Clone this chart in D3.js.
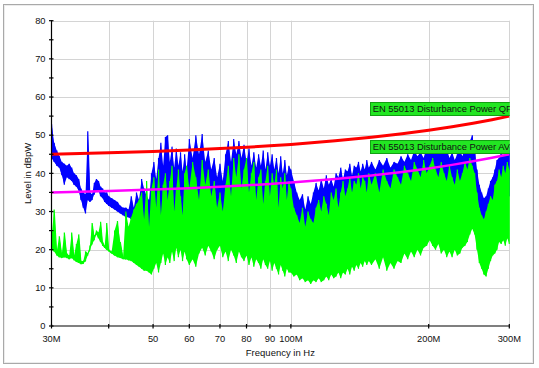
<!DOCTYPE html>
<html>
<head>
<meta charset="utf-8">
<script src="https://cdn.jsdelivr.net/npm/d3@7/dist/d3.min.js"></script>
<style>
  html, body { margin: 0; padding: 0; background: #fff; }
  svg { display: block; }
  text { font-family: "Liberation Sans", Arial, sans-serif; fill: #111; }
</style>
</head>
<body>
<svg id="chart" width="539" height="368"></svg>
<script>
// ---------------- data ----------------
const freqMHz = [
  30.0,30.4,30.8,31.2,31.6,32.0,32.4,32.8,33.2,33.6,34.0,34.4,34.8,35.2,35.6,36.0,36.4,36.8,37.2,37.6,38.0,38.4,38.8,39.2,39.6,
  40.0,40.6,41.2,41.8,42.4,43.0,43.6,44.2,44.8,45.4,46.0,46.6,47.2,47.8,48.4,49.0,49.6,50.2,50.8,51.4,52.0,52.6,53.2,53.8,54.4,55.0,55.6,56.2,56.8,57.4,58.0,58.6,59.2,
  60,61,62,63,64,65,66,67,68,69,70,71,72,73,74,75,76,77,78,79,80,81,82,83,84,85,86,87,88,89,90,91,92,93,94,95,96,97,98,99,
  100,101.5,103,104.5,106,107.5,109,110.5,112,113.5,115,116.5,118,119.5,121,122.5,124,125.5,127,128.5,130,131.5,133,134.5,136,137.5,139,140.5,142,143.5,145,146.5,148,
  150,153,156,159,162,165,168,171,174,177,180,183,186,189,192,195,198,201,204,207,210,213,216,219,222,225,228,231,234,237,240,243,246,249,252,255,258,261,264,267,270,273,276,279,282,285,288,291,294,297,300
];
// blue trace (peak) upper / lower values per sample, dBpW
const peakHi = [
  53,48,46,44.5,43,42.5,42,42.5,41.5,40,39.5,38.5,36,35,34.5,51,35,34.5,37.5,38.5,38,36.5,36,35,35,
  34,33.5,33,32.5,31.5,31,31,30.5,34,31,35,33,38.5,36,34,33,40,43,38.5,44,48,42,49.5,50,43,47,41.5,46.5,42,45.5,40.5,45,41,
  49,44,50,45,50.3,43,46,41,44,39,42.5,38,45,48.5,43,49,45,48.5,44,47.5,43,46.5,42,45.5,41.5,45,42,46,41,45.5,42,45,41,44,40,44.5,40,43.5,39.5,42,
  41,38,35,33,34.5,30.5,34,32,35,37.5,35.5,38.5,36,39.5,37,38.5,36.5,40,39,41.5,38.5,41,40.5,42.5,39.5,42,41.5,43,40.5,42.5,41,43.5,41.5,
  43,41,43.5,42,44,41.5,43,42.5,44.5,43,45,43.5,46,44.5,45.5,44,47,46.5,48,45.5,47,46,45,46.5,44,45.5,43.5,45,46,44.5,47,47.5,48.5,50,46.5,41,37,35,33.5,34,36,38,39,41,43.5,44,45.5,44.5,46,45.5,47
];
const peakLo = [
  44,43,42,41.5,39.5,37,39,38.5,38,37,36.5,35.5,33,31,29.5,33,32.5,33,34.5,35.5,35.5,34,33.5,32.5,32,
  31.5,31,30.5,30,29.5,29,28.5,28.5,28,27.5,27,26.5,26,26.5,25,24.5,25,26,26,26.5,27,27,27.5,27,28,28.5,28,29,28.5,28,29,28.5,29,
  28,29,28.5,30,29.5,30,29.5,30,29,30,29.5,29,30.5,31,31.5,31,32,31.5,31,32,31.5,30,31,30.5,31,30,31.5,30.5,31,28,30.5,31,30,31,30,29.5,30,29,30,29,
  28,27,25,23.5,24,23,25,24.5,26,27,26.5,27,27.5,28,27,28.5,28,29,28,30,29,30,30.5,31,30,31,31.5,31,32,31,32,31.5,32,
  32,33,32.5,33,32,33.5,32.5,34,33,34,33.5,34.5,34,35,35,35.5,35,35.5,35,35.5,33,35,34,33,34.5,34,33,35,33,35,36,36,37,36,34,31,28,26,25,25.5,27,28,29,30,31,32,33,32,33.5,33,34
];
// green trace (average) upper / lower values per sample, dBpW
const avgHi = [
  23,30.5,19.5,23.5,19,24.5,19,18.5,24.5,18.5,21.5,24,17,17,19.5,19,21,27,23.5,25,24.5,27.3,22,21,27,
  20,19.5,25,27.5,22,18,30,26,28.5,30.5,32,33,35,28,38,26,36,39,31,41,29,37,40,33,38,42,30,36,41,34,29,40,42,
  36,43,39,33,43.5,37,41,34,38,31,35,30,37,42,34,44,39,45,36,41,44,35,40,43,33,39,41,32,38,42,34,40,37,41,31,39,36,40,33,38,
  36,31,29,27,31,26,30,28,27,31,33,30,34,32,29,35,33,36,31,35,38,34,36,39,35,38,37,40,36,39,38,35,40,
  37,40,35,41,38,36,41,39,37,42,40,38,43,41,39,43.5,40,42,44,41,39,43,40,38,42,39,37,41,38,40,43,41,44,42,40,35,31,29,28,30,32,34,33,37,38,41,39,42,40,43,41
];
const avgLo = [
  20,19.5,18.5,18,17.8,18,17.8,17.5,17.8,17.2,16.8,16.5,16.2,16.3,17,18.5,20,21.5,22.5,24,23,22,21,20.5,20,
  19.5,19,18.5,18,17.8,17.5,17.5,17.2,17,16.5,16,15.5,15,14.5,14.5,14,13.5,15,16.5,14,16.5,19,16,18,16.5,19.5,17,20.5,18,20,17,19.5,17.5,
  16,17.5,15.5,19,20.5,18.5,21,19.5,17.5,20,21,18,19.5,17,20,18.5,16.5,19.5,18,17,18.5,16,18,15.5,17.5,16.5,15,17.5,16,15,17,14.5,16.5,15,13.5,16,14.5,13,15,14,
  14,13,13.5,12,12.5,11.5,12,11,12,11.5,12.5,11.5,12,13,12,13.5,12.5,13,14,12.5,14,13.5,15,13.5,15.5,14.5,16,15,16.5,15.5,17,16,17,
  16,17.5,15,18,14.5,16.5,15,17,16.5,19,17.5,19.5,18,20,18.5,20.5,21,22.5,21,20,21.5,19,20,18,19.5,18,20,18.5,19,20.5,21,22,24,25.5,24,20,16.5,15,13.5,13,15,17,18.5,19,20,22,21.5,22.5,21,23,21.5
];
// limit lines (EN 55013 disturbance power)
const limitFreqMHz = [30,40,50,60,70,80,90,100,125,150,175,200,225,250,275,300];
const limitQP = [45.00,45.37,45.74,46.11,46.48,46.85,47.22,47.59,48.52,49.44,50.37,51.30,52.22,53.15,54.07,55.00];
const limitAV = [35.00,35.37,35.74,36.11,36.48,36.85,37.22,37.59,38.52,39.44,40.37,41.30,42.22,43.15,44.07,45.00];
const limitNames = ["EN 55013 Disturbance Power QP", "EN 55013 Disturbance Power AV"];
const labelAnchorMHz = 149;

const xTickValues = [30,40,50,60,70,80,90,100,200,300];
const xTickLabels = ["30M","","50","60","70","80","90","100M","200M","300M"];
const yMajorTicks = [0,10,20,30,40,50,60,70,80];
const yMinorTicks = [5,15,25,35,45,55,65,75];
const xTitle = "Frequency in Hz";
const yTitle = "Level in dBpW";

// ---------------- chart ----------------
const svg = d3.select("#chart");
const x = d3.scaleLog().domain([30,300]).range([51.5,509.3]);
const y = d3.scaleLinear().domain([0,80]).range([326,20.7]);

// outer frame
svg.append("rect").attr("x",3.5).attr("y",4.5).attr("width",530).attr("height",359)
  .attr("fill","#fff").attr("stroke","#a9a9a9").attr("stroke-width",1);
svg.append("rect").attr("x",4.5).attr("y",5.5).attr("width",528).attr("height",357)
  .attr("fill","none").attr("stroke","#ececec").attr("stroke-width",1);

svg.append("defs").append("clipPath").attr("id","plotclip").append("rect")
  .attr("x",x(30)).attr("y",y(80)-1).attr("width",x(300)-x(30)+0.5).attr("height",y(0)-y(80)+1);

// grid
const grid = svg.append("g").attr("stroke","#d4d4d4").attr("stroke-width",1);
grid.selectAll(".hg").data(yMajorTicks.slice(1)).join("line")
  .attr("x1",x(30)).attr("x2",x(300)).attr("y1",d=>Math.round(y(d))+0.5).attr("y2",d=>Math.round(y(d))+0.5);
grid.selectAll(".vg").data(xTickValues.slice(1)).join("line")
  .attr("y1",y(0)).attr("y2",y(80)).attr("x1",d=>Math.round(x(d))+0.5).attr("x2",d=>Math.round(x(d))+0.5);

const plot = svg.append("g").attr("clip-path","url(#plotclip)");
const idx = d3.range(freqMHz.length);

// measurement trace: band fill + sample-by-sample stroke (low -> high -> next low)
function band(hi, lo) {
  return d3.area().x(i => x(freqMHz[i])).y0(i => y(lo[i])).y1(i => y(hi[i]))(idx);
}
function trace(hi, lo) {
  const pts = [];
  freqMHz.forEach((f,i) => { pts.push([x(f), y(lo[i])]); pts.push([x(f), y(hi[i])]); });
  return d3.line()(pts);
}
function drawSeries(hi, lo, color) {
  plot.append("path").attr("d", band(hi, lo)).attr("fill", color);
  plot.append("path").attr("d", trace(hi, lo)).attr("fill","none")
    .attr("stroke", color).attr("stroke-width",1.2).attr("stroke-linejoin","bevel");
}
drawSeries(peakHi, peakLo, "#0000ff");
drawSeries(avgHi, avgLo, "#00ff00");

const lim = d3.line().x((d,i)=>x(limitFreqMHz[i])).y(d=>y(d));
plot.append("path").attr("d", lim(limitAV)).attr("fill","none").attr("stroke","#ff00ff").attr("stroke-width",2.5);
plot.append("path").attr("d", lim(limitQP)).attr("fill","none").attr("stroke","#ff0000").attr("stroke-width",3);

// limit labels
[limitQP, limitAV].forEach((vals,k) => {
  const yb = y(vals[vals.length-1]) - 1;
  const g = plot.append("g");
  g.append("rect").attr("x",Math.round(x(labelAnchorMHz))+0.5).attr("y",Math.round(yb-13.5)+0.5)
    .attr("width",160).attr("height",13).attr("fill","#22e622").attr("stroke","#13a013");
  g.append("text").attr("x",x(labelAnchorMHz)+2.5).attr("y",yb-3.2)
    .style("font-size","9.4px").text(limitNames[k]);
});

// axes
const ax = svg.append("g").attr("stroke","#000").attr("stroke-width",1.2);
ax.append("line").attr("x1",x(30)).attr("x2",x(30)).attr("y1",y(0)).attr("y2",y(80)-0.5);
ax.append("line").attr("x1",x(30)).attr("x2",x(300)).attr("y1",y(0)).attr("y2",y(0));
ax.selectAll(".yt").data(yMajorTicks.concat(yMinorTicks)).join("line")
  .attr("x1",x(30)-2.5).attr("x2",x(30)+2).attr("y1",d=>y(d)).attr("y2",d=>y(d));
ax.selectAll(".xt").data(xTickValues).join("line")
  .attr("y1",y(0)-2).attr("y2",y(0)+2.5).attr("x1",d=>x(d)).attr("x2",d=>x(d));

svg.append("g").selectAll("text").data(yMajorTicks).join("text")
  .attr("x",x(30)-6).attr("y",d=>y(d)).attr("dy","0.35em").attr("text-anchor","end")
  .style("font-size","9.3px").text(d=>d);
svg.append("g").selectAll("text").data(xTickValues).join("text")
  .attr("x",d=>x(d)).attr("y",y(0)+15.6).attr("text-anchor","middle")
  .style("font-size","9.3px").text((d,i)=>xTickLabels[i]);

svg.append("text").attr("x",(x(30)+x(300))/2).attr("y",356).attr("text-anchor","middle")
  .style("font-size","9.5px").text(xTitle);
svg.append("text").attr("transform",`translate(30.5,${(y(0)+y(80))/2}) rotate(-90)`)
  .attr("text-anchor","middle").style("font-size","9.5px").text(yTitle);
</script>
</body>
</html>
